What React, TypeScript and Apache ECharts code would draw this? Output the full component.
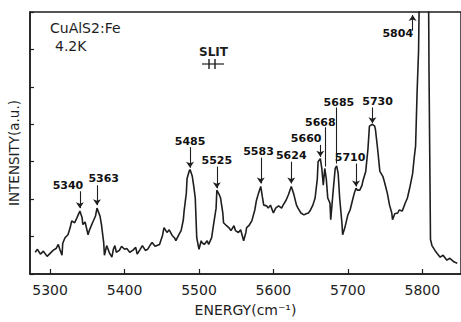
import React, { useEffect, useRef } from "react";
import * as echarts from "echarts";

// Spectrum trace (energy in cm-1, intensity in a.u.)
const energy = [
  5280, 5283, 5287, 5291, 5296, 5300, 5304, 5308, 5311, 5313, 5316, 5317, 5320, 5324, 5327, 5329,
  5333, 5336, 5340, 5343, 5344, 5347, 5351, 5353, 5357, 5361, 5363, 5367, 5369, 5372, 5373, 5376,
  5377, 5380, 5383, 5385, 5387, 5389, 5393, 5396, 5400, 5403, 5407, 5411, 5415, 5417, 5421, 5424,
  5428, 5431, 5435, 5437, 5441, 5447, 5451, 5453, 5457, 5460, 5464, 5467, 5469, 5473, 5476, 5479,
  5480, 5483, 5484, 5487, 5488, 5491, 5493, 5495, 5497, 5500, 5503, 5504, 5507, 5511, 5513, 5517,
  5520, 5523, 5524, 5527, 5529, 5532, 5533, 5537, 5540, 5543, 5547, 5549, 5553, 5556, 5560, 5563,
  5564, 5567, 5571, 5575, 5577, 5580, 5583, 5585, 5587, 5591, 5593, 5596, 5600, 5603, 5607, 5611,
  5613, 5617, 5620, 5624, 5627, 5631, 5633, 5637, 5641, 5644, 5647, 5649, 5653, 5656, 5659, 5660,
  5663, 5665, 5667, 5668, 5669, 5671, 5673, 5676, 5677, 5680, 5683, 5685, 5687, 5689, 5692, 5693,
  5696, 5700, 5703, 5707, 5709, 5711, 5713, 5716, 5719, 5720, 5724, 5727, 5729, 5733, 5736, 5737,
  5740, 5743, 5747, 5749, 5753, 5756, 5759, 5760, 5763, 5767, 5769, 5773, 5777, 5780, 5783, 5787,
  5789, 5791, 5793, 5795, 5797, 5804, 5808, 5809, 5811, 5813, 5817, 5820, 5824, 5828, 5833, 5837,
  5843, 5847,
];
const intensity = [
  0.58, 0.66, 0.53, 0.61, 0.47, 0.55, 0.63, 0.68, 0.79, 0.66, 0.5, 0.82, 0.97, 1.05, 1.24, 1.42,
  1.37, 1.5, 1.68, 1.5, 1.32, 1.39, 1.05, 1.18, 1.37, 1.55, 1.76, 1.55, 1.32, 0.84, 0.5, 0.76,
  0.71, 0.55, 0.45, 0.66, 0.76, 0.58, 0.63, 0.74, 0.66, 0.68, 0.58, 0.63, 0.71, 0.53, 0.66, 0.76,
  0.63, 0.66, 0.79, 0.84, 0.74, 0.79, 1.03, 1.24, 1.11, 1.18, 1.03, 0.97, 0.89, 1.05, 1.16, 1.45,
  1.68, 2.16, 2.55, 2.76, 2.79, 2.61, 2.34, 2.03, 0.97, 0.66, 0.89, 0.84, 0.79, 0.89, 0.79, 0.97,
  1.37, 1.76, 2.24, 2.13, 2.03, 1.63, 1.37, 1.29, 1.24, 1.16, 1.29, 1.16, 1.11, 1.18, 0.89, 1.11,
  1.24, 1.29, 1.42, 1.71, 1.95, 2.16, 2.34, 2.08, 1.84, 1.82, 1.76, 1.84, 1.63, 1.76, 1.82, 1.76,
  1.84, 1.97, 2.11, 2.34, 2.16, 1.84, 1.76, 1.63, 1.58, 1.61, 1.63, 1.68, 1.84, 2.03, 2.55, 3.0,
  3.08, 2.82, 2.37, 2.61, 2.82, 2.55, 2.03, 1.89, 1.45, 2.16, 2.82, 2.89, 2.68, 2.03, 1.37, 1.05,
  1.24, 1.58, 1.71, 2.03, 2.18, 2.29, 2.24, 2.24, 2.37, 2.47, 2.74, 3.34, 3.95, 4.0, 3.95, 3.87,
  3.34, 2.74, 2.61, 2.47, 2.16, 1.84, 1.63, 1.45, 1.61, 1.63, 1.71, 1.68, 1.89, 2.03, 2.29, 2.68,
  3.08, 3.42, 4.84, 5.97, 9.0, 10.0, 9.0, 5.5, 0.92, 0.76, 0.63, 0.55, 0.45, 0.5, 0.37, 0.42,
  0.32, 0.29,
];

// Peak annotations
const peakLabels = ["5340", "5363", "5485", "5525", "5583", "5624", "5660", "5668", "5685", "5710", "5730", "5804"];
const labelX = [5324, 5372, 5488, 5524, 5580, 5624, 5644, 5663, 5688, 5703, 5740, 5767];
const labelY = [2.37, 2.55, 3.55, 3.03, 3.26, 3.16, 3.61, 4.05, 4.58, 3.11, 4.61, 6.42];
const arrowX = [5340, 5363, 5488, 5524, 5583, 5624, 5663, 5669, 5685, 5711, 5733, 5787];
const arrowFrom = [2.21, 2.37, 3.39, 2.87, 3.11, 3.0, 3.45, 3.92, 4.45, 2.95, 4.45, 6.5];
const arrowTo = [1.76, 1.84, 2.84, 2.29, 2.42, 2.42, 3.13, 2.87, 2.95, 2.34, 4.03, 6.92];
const arrowHead = [true, true, true, true, true, true, true, false, false, true, true, true];

const xTicks = [5300, 5400, 5500, 5600, 5700, 5800];

const FONT = "DejaVu Sans";
const INK = "#1e1e1e";

export default function App() {
  const ref = useRef<HTMLDivElement>(null);
  useEffect(() => {
    if (!ref.current) return;
    const chart = echarts.init(ref.current, undefined, { renderer: "svg" });
    const lineData = energy.map((e, i) => [e, intensity[i]]);
    const markData = arrowX.map((x, i) => [
      { coord: [x, arrowFrom[i]], symbol: "none" },
      { coord: [x, arrowTo[i]], symbol: arrowHead[i] ? "arrow" : "none" },
    ]);
    const labelData = peakLabels.map((t, i) => [labelX[i], labelY[i], t]);
    chart.setOption({
      animation: false,
      backgroundColor: "#ffffff",
      grid: { left: 30, top: 12, right: -3, bottom: 45, show: true, borderColor: INK, borderWidth: 1.5 },
      xAxis: {
        type: "value",
        min: 5273,
        max: 5852,
        splitNumber: 5,
        name: "ENERGY(cm⁻¹)",
        nameLocation: "middle",
        nameGap: 29,
        nameTextStyle: { fontFamily: FONT, fontSize: 14, color: INK },
        axisLine: { show: true, lineStyle: { color: INK, width: 1.5 } },
        axisTick: { show: true, inside: true, length: 5, lineStyle: { color: INK, width: 1.2 } },
        axisLabel: {
          margin: 9,
          fontFamily: FONT,
          fontSize: 14,
          color: INK,
          showMinLabel: false,
          showMaxLabel: false,
          formatter: (v: number) => (xTicks.includes(v) ? String(v) : ""),
        },
        splitLine: { show: false },
      },
      yAxis: {
        type: "value",
        min: 0,
        max: 7,
        interval: 1,
        axisLine: { show: true, lineStyle: { color: INK, width: 1.5 } },
        axisTick: { show: true, inside: true, length: 4, lineStyle: { color: INK, width: 1.2 } },
        axisLabel: { show: false },
        splitLine: { show: false },
      },
      graphic: [
        { type: "text", left: 50, top: 21, style: { text: "CuAlS2:Fe", fontFamily: FONT, fontSize: 14, fill: INK } },
        { type: "text", left: 55, top: 39, style: { text: "4.2K", fontFamily: FONT, fontSize: 14, fill: INK } },
        { type: "text", left: 199, top: 46, style: { text: "SLIT", fontFamily: FONT, fontSize: 12, fontWeight: "bold", fill: INK } },
        { type: "line", shape: { x1: 202, y1: 64, x2: 224, y2: 64 }, style: { stroke: INK, lineWidth: 1.2 } },
        { type: "line", shape: { x1: 209, y1: 59, x2: 209, y2: 69 }, style: { stroke: INK, lineWidth: 1.4 } },
        { type: "line", shape: { x1: 215, y1: 59, x2: 215, y2: 69 }, style: { stroke: INK, lineWidth: 1.4 } },
        {
          type: "text",
          x: 14,
          y: 153,
          rotation: Math.PI / 2,
          style: {
            text: "INTENSITY(a.u.)",
            fontFamily: FONT,
            fontSize: 13.5,
            fill: INK,
            align: "center",
            verticalAlign: "middle",
          },
        },
      ],
      series: [
        {
          type: "line",
          data: lineData,
          showSymbol: false,
          symbol: "none",
          clip: true,
          lineStyle: { color: INK, width: 1.6 },
          markLine: {
            silent: true,
            symbolSize: 6,
            label: { show: false },
            lineStyle: { color: INK, width: 1.1, type: "solid" },
            data: markData,
          },
          z: 2,
        },
        {
          type: "scatter",
          data: labelData,
          symbolSize: 0,
          silent: true,
          itemStyle: { color: INK, opacity: 1 },
          label: {
            show: true,
            position: "inside",
            formatter: (p: any) => p.value[2],
            fontFamily: FONT,
            fontSize: 11,
            fontWeight: "bold",
            color: "#111111",
            opacity: 1,
            textBorderWidth: 0,
          },
          z: 3,
        },
      ],
    });
    return () => chart.dispose();
  }, []);
  return <div ref={ref} style={{ position: "fixed", left: 0, top: 0, width: 461, height: 322 }} />;
}
